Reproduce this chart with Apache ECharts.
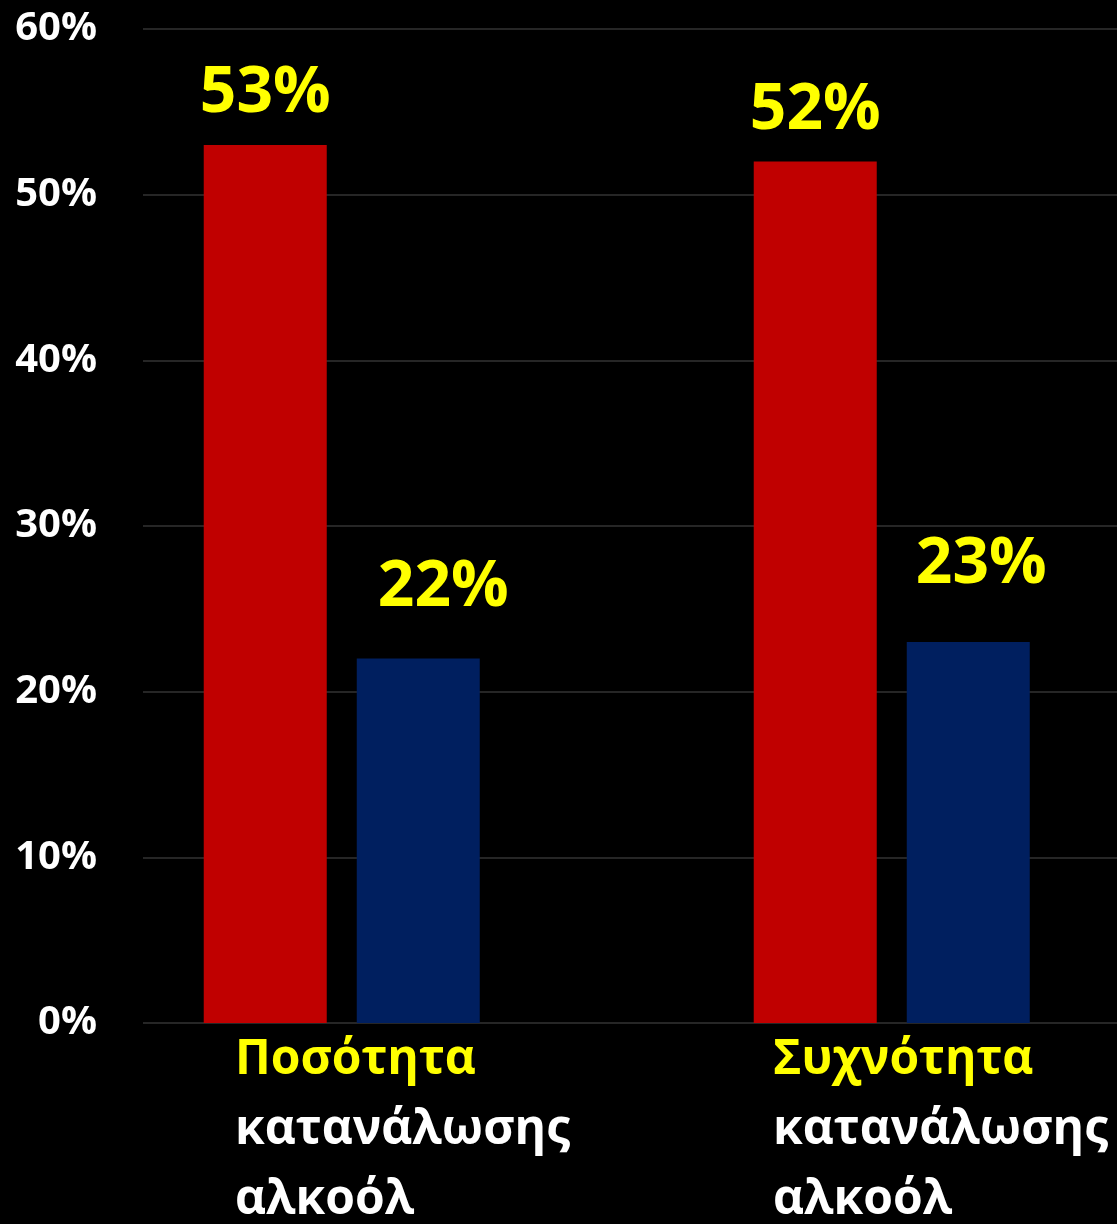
<!DOCTYPE html>
<html>
<head>
<meta charset="utf-8">
<script src="https://cdn.jsdelivr.net/npm/echarts@6/dist/echarts.min.js"></script>
<style>
html,body{margin:0;padding:0;background:#000;}
#chart{width:1117px;height:1224px;}
</style>
</head>
<body>
<div id="chart"></div>
<script>
const categories = ['Ποσότητα\nκατανάλωσης\nαλκοόλ', 'Συχνότητα\nκατανάλωσης\nαλκοόλ'];
const redValues = [53, 52];
const blueValues = [22, 23];
const yTicks = [0, 10, 20, 30, 40, 50, 60];

const FONT = '"Open Sans", "Noto Sans", sans-serif';
const blueLabelOffsets = [[25, -20], [13, -26]];

const chart = echarts.init(document.getElementById('chart'));
const gridTop = 29, gridBottom = 201;
const option = {
  backgroundColor: '#000000',
  animation: false,
  grid: [
    {left: 143, right: 0, top: gridTop, bottom: gridBottom},
    {left: 341.75, width: 550, top: gridTop, bottom: gridBottom},
    {left: 235, width: 538, top: gridTop, bottom: gridBottom}
  ],
  xAxis: [
    {type: 'category', gridIndex: 0, data: categories, show: false},
    {type: 'category', gridIndex: 1, data: categories, boundaryGap: false, axisLine: {show: false}, axisTick: {show: false}, axisLabel: {show: false}},
    {type: 'category', gridIndex: 2, data: categories, boundaryGap: false, axisLine: {show: false}, axisTick: {show: false},
      axisLabel: {
        show: true, interval: 0, align: 'left', verticalAlign: 'top', margin: 8,
        formatter: function (v) {
          const lines = v.split('\n');
          return lines.map((l, i) => i === 0 ? '{y|' + l + '}' : '{w|' + l + '}').join('\n');
        },
        rich: {
          y: {color: '#FFFF00', fontFamily: FONT, fontWeight: 'bold', fontSize: 48, lineHeight: 70},
          w: {color: '#FFFFFF', fontFamily: FONT, fontWeight: 'bold', fontSize: 48, lineHeight: 70}
        }
      }
    }
  ],
  yAxis: [
    {type: 'value', gridIndex: 0, min: yTicks[0], max: yTicks[yTicks.length - 1], interval: 10,
      axisLine: {show: false}, axisTick: {show: false},
      axisLabel: {formatter: '{value}%', color: '#FFFFFF', fontFamily: FONT, fontWeight: 'bold', fontSize: 40, margin: 46},
      splitLine: {show: true, lineStyle: {color: '#262626', width: 2}}
    },
    {type: 'value', gridIndex: 1, min: yTicks[0], max: yTicks[yTicks.length - 1], show: false},
    {type: 'value', gridIndex: 2, min: yTicks[0], max: yTicks[yTicks.length - 1], show: false}
  ],
  series: [
    {
      type: 'bar', xAxisIndex: 1, yAxisIndex: 1, clip: false,
      data: redValues,
      barWidth: 123, barGap: '24.4%',
      itemStyle: {color: '#C00000'},
      label: {show: true, position: 'top', distance: 19, formatter: '{c}%', color: '#FFFF00', fontFamily: FONT, fontWeight: 'bold', fontSize: 64}
    },
    {
      type: 'bar', xAxisIndex: 1, yAxisIndex: 1, clip: false,
      data: blueValues.map((v, i) => ({value: v, label: {offset: blueLabelOffsets[i]}})),
      barWidth: 123, barGap: '24.4%',
      itemStyle: {color: '#001F5F'},
      label: {show: true, position: 'top', distance: 19, formatter: '{c}%', color: '#FFFF00', fontFamily: FONT, fontWeight: 'bold', fontSize: 64}
    }
  ]
};
chart.setOption(option);
</script>
</body>
</html>
